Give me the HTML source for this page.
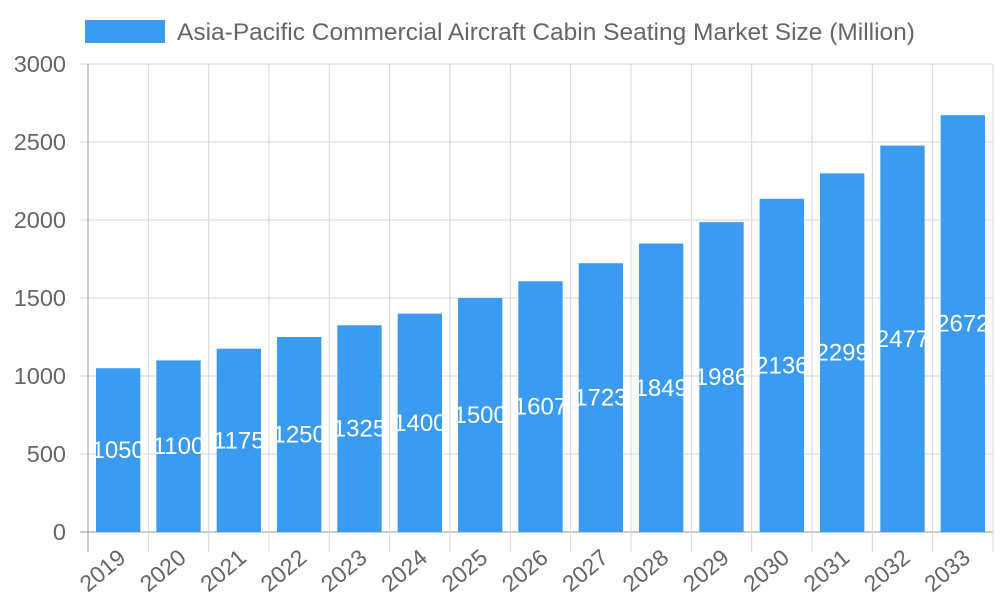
<!DOCTYPE html>
<html><head><meta charset="utf-8"><style>
body{margin:0;background:#fff;}
svg{display:block;font-family:"Liberation Sans",sans-serif;}
</style></head><body>
<svg id="chart" width="1000" height="600">
<g>
<rect x="85" y="20" width="80" height="23" fill="#3a9bf0"></rect>
<text x="177" y="40" font-size="24.5" fill="#666">Asia-Pacific Commercial Aircraft Cabin Seating Market Size (Million)</text>
</g>
<g id="grid"></g>
<g id="bars"></g>
<g id="xlabels"></g>
<g id="ylabels"></g>
</svg>
<script>
const categories=["2019","2020","2021","2022","2023","2024","2025","2026","2027","2028","2029","2030","2031","2032","2033"];
const values=[1050,1100,1175,1250,1325,1400,1500,1607,1723,1849,1986,2136,2299,2477,2672];
const yTicks=[0,500,1000,1500,2000,2500,3000];
const NS="http://www.w3.org/2000/svg";
const L=88,R=993,T=64,B=532,yMax=3000;
const step=(R-L)/categories.length;
const y=v=>B-(v/yMax)*(B-T);
const x=i=>L+i*step;
function mk(tag,attrs,parent){const e=document.createElementNS(NS,tag);for(const k in attrs)e.setAttribute(k,attrs[k]);parent.appendChild(e);return e;}
const grid=document.getElementById('grid'),bars=document.getElementById('bars'),xl=document.getElementById('xlabels'),yl=document.getElementById('ylabels');
yTicks.forEach(t=>{
 const ln=mk('line',{x1:L-8,x2:R,y1:y(t),y2:y(t),stroke:t===0?'#999':'#d6d6d6','stroke-width':1},grid);
 
 
 const tx=mk('text',{x:66,y:y(t)+8,'text-anchor':'end','font-size':23.5,fill:'#666'},yl);
 tx.textContent=t;
 
 
});
for(let i=0;i<=categories.length;i++){
 const ln=mk('line',{x1:x(i),x2:x(i),y1:T,y2:B+20,stroke:i===0?'#999':'#d6d6d6','stroke-width':1},grid);
 
 
}
categories.forEach((c,i)=>{
 const bx=x(i)+8,bw=step-16;
 const r=mk('rect',{x:bx,y:y(values[i]),width:bw,height:B-y(values[i]),fill:'#3a9bf0'},bars);
 
 
 const lb=mk('text',{x:bx+bw/2,y:(y(values[i])+B)/2+8,'text-anchor':'middle','font-size':24,fill:'#fff'},bars);
 lb.textContent=values[i];
 
 
 const cx=x(i)+step/2;
 const xt=mk('text',{x:cx+9,y:560,'text-anchor':'end','font-size':23,fill:'#666',transform:`rotate(-40 ${cx+9} 560)`},xl);
 xt.textContent=c;
 
 
});
</script>
</body></html>
